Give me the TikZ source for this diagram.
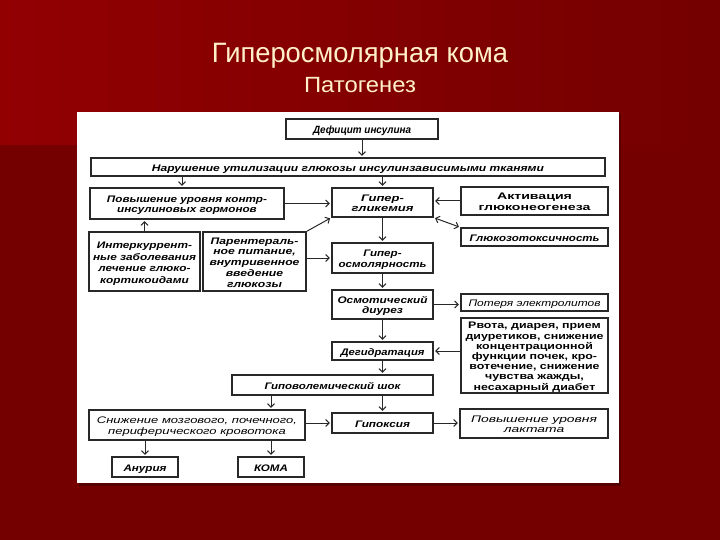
\documentclass[tikz,border=0pt]{standalone}
\usepackage{fontspec}
\usepackage{graphicx}
\setmainfont{Liberation Sans}
\usetikzlibrary{arrows.meta}
\definecolor{bgdark}{RGB}{116,0,0}
\definecolor{bglight}{RGB}{146,0,2}
\definecolor{titlecol}{RGB}{255,240,200}
\definecolor{boxline}{RGB}{40,40,40}
\newcommand\fw[3][10.5]{{\fontsize{9.5}{#1}\selectfont\raisebox{-2pt}[\height][\depth]{\resizebox{#2}{\height}{\begin{tabular}{@{}c@{}}#3\end{tabular}}}}}
\begin{document}
\begin{tikzpicture}[x=1pt,y=-1pt,
  box/.style={draw=boxline, line width=1.2pt, fill=white, inner sep=0pt, text=black,
    font=\bfseries\itshape},
  plain/.style={box, font=\itshape},
  upright/.style={box, font=\bfseries},
  arr/.style={-{Straight Barb[length=3.5pt,width=7pt]}, line width=1pt, draw=boxline,
    shorten >=1.5pt, shorten <=0.5pt},
  dbl/.style={arr, {Straight Barb[length=3.5pt,width=7pt]}-{Straight Barb[length=3.5pt,width=7pt]}, shorten <=1.5pt},
  ttl/.style={text=titlecol, inner sep=0pt, anchor=base}]
\useasboundingbox (0,0) rectangle (720,540);
% background
\fill[bgdark] (0,0) rectangle (720,540);
\shade[left color=bglight, right color=bgdark] (0,0) rectangle (720,145);
\fill[black, opacity=0.25] (79,114) rectangle (621,486);
\fill[white] (77,112) rectangle (619,483);
% title
\node[ttl] (title) at (360,63) {\fontsize{28}{30}\selectfont\resizebox{296pt}{\height}{Гиперосмолярная кома}};
\node[ttl] (subtitle) at (360,93) {\fontsize{22}{24}\selectfont\resizebox{112pt}{\height}{Патогенез}};
% boxes
\node[box, minimum width=152pt, minimum height=20pt] (def) at (362,129) {\fontsize{10.5}{11}\selectfont\fw{98pt}{\fontsize{10.5}{11}\selectfont Дефицит инсулина}};
\node[box, minimum width=514pt, minimum height=18pt] (nar) at (348,167) {\fw{392pt}{Нарушение утилизации глюкозы инсулинзависимыми тканями}};
\node[box, minimum width=194pt, minimum height=31pt] (pov) at (187,203.5) {\fw{160pt}{Повышение уровня контр-\\инсулиновых гормонов}};
\node[box, minimum width=101pt, minimum height=29pt] (gip) at (382.5,202.5) {\fw{62pt}{Гипер-\\гликемия}};
\node[upright, minimum width=147pt, minimum height=28pt] (akt) at (534.5,201) {\fw{112pt}{Активация\\глюконеогенеза}};
\node[box, minimum width=147pt, minimum height=18pt] (gtox) at (534.5,237) {\fw{130pt}{Глюкозотоксичность}};
\node[box, minimum width=111pt, minimum height=59pt] (int) at (144.5,261.5) {\fw[11.5]{103pt}{Интеркуррент-\\ные заболевания\\лечение глюко-\\кортикоидами}};
\node[box, minimum width=103pt, minimum height=59pt] (par) at (254.5,261.5) {\fw[10.8]{90pt}{Парентераль-\\ное питание,\\внутривенное\\введение\\глюкозы}};
\node[box, minimum width=101pt, minimum height=30pt] (osm) at (382.5,258) {\fw{88pt}{Гипер-\\осмолярность}};
\node[box, minimum width=101pt, minimum height=29pt] (diur) at (382.5,304.5) {\fw{90pt}{Осмотический\\диурез}};
\node[plain, minimum width=147pt, minimum height=17pt] (elec) at (534.5,302.5) {\fw{132pt}{Потеря электролитов}};
\node[upright, minimum width=147pt, minimum height=75pt] (rvota) at (534.5,355.5) {\fw[10.2]{138pt}{Рвота, диарея, прием\\диуретиков, снижение\\концентрационной\\функции почек, кро-\\вотечение, снижение\\чувства жажды,\\несахарный диабет}};
\node[box, minimum width=101pt, minimum height=18pt] (deg) at (382.5,351) {\fw{84pt}{Дегидратация}};
\node[box, minimum width=201pt, minimum height=20pt] (shock) at (332.5,385) {\fw{136pt}{Гиповолемический шок}};
\node[plain, minimum width=216pt, minimum height=30pt] (sniz) at (197,425) {\fw{200pt}{Снижение мозгового, почечного,\\периферического кровотока}};
\node[box, minimum width=101pt, minimum height=20pt] (hyp) at (382.5,423) {\fw{55pt}{Гипоксия}};
\node[plain, minimum width=148pt, minimum height=29pt] (lakt) at (534,423.5) {\fw{126pt}{Повышение уровня\\лактата}};
\node[box, minimum width=66pt, minimum height=20pt] (anur) at (145,467) {\fw{43pt}{Анурия}};
\node[box, minimum width=66pt, minimum height=20pt] (koma) at (271,467) {\fw{34pt}{КОМА}};
% helper coordinate
\coordinate (povin) at ([xshift=-5pt]pov.north);
% connectors
\draw[arr] (def.south) -- (def.south |- nar.north);
\draw[arr] (povin |- nar.south) -- (povin);
\draw[arr] (gip.north |- nar.south) -- (gip.north);
\draw[arr] (pov.east) -- (pov.east -| gip.west);
\draw[arr] (akt.west) -- (akt.west -| gip.east);
\draw[dbl] (gip.south east) -- (gtox.north west);
\draw[arr] (int.north) -- (int.north |- pov.south);
\draw[arr] (par.north east) -- (gip.south west);
\draw[arr] (gip.south) -- (osm.north);
\draw[arr] (par.east |- osm.west) -- (osm.west);
\draw[arr] (osm.south) -- (diur.north);
\draw[arr] (diur.east) -- (diur.east -| elec.west);
\draw[arr] (diur.south) -- (deg.north);
\draw[arr] (rvota.west |- deg.east) -- (deg.east);
\draw[arr] (deg.south) -- (deg.south |- shock.north);
\draw[arr] (koma.north |- shock.south) -- (koma.north |- sniz.north);
\draw[arr] (hyp.north |- shock.south) -- (hyp.north);
\draw[arr] (sniz.east |- hyp.west) -- (hyp.west);
\draw[arr] (hyp.east) -- (hyp.east -| lakt.west);
\draw[arr] (anur.north |- sniz.south) -- (anur.north);
\draw[arr] (koma.north |- sniz.south) -- (koma.north);
\end{tikzpicture}
\end{document}
